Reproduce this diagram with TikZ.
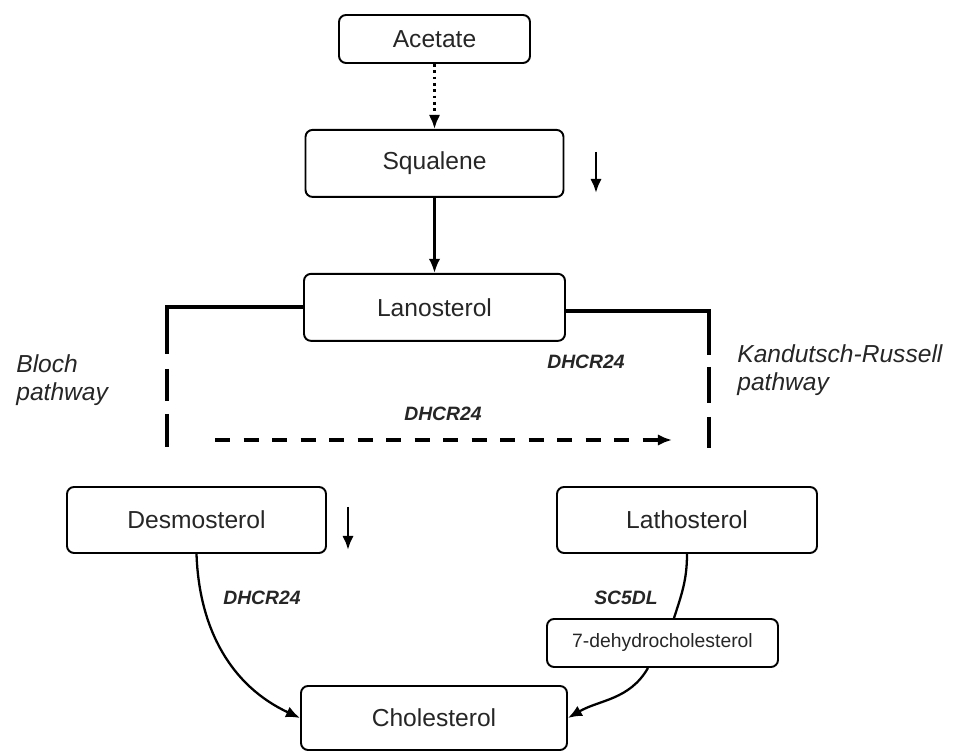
\documentclass[tikz,border=0pt]{standalone}
\usepackage{fontspec}
\setmainfont{Liberation Sans}
\usetikzlibrary{positioning, arrows, arrows.meta}

\begin{document}
\begin{tikzpicture}[-, node distance=1cm, >={Latex[length=8pt, width=6.5pt]},
	mol/.style={draw, rounded corners=4pt, line width=1.1pt, inner sep=0pt, text=black!85, font=\fontsize{14}{17}\selectfont},
	enz/.style={text=black!85, font=\fontsize{11}{13}\selectfont\bfseries\itshape},
	pw/.style={text=black!85, align=left, inner sep=0pt, font=\fontsize{14}{16}\selectfont\itshape},
	flow/.style={line width=1.3pt},
	bracket/.style={line width=1.8pt}]
		\useasboundingbox (0,0) rectangle (19.08,15.02);
		
		\node[mol, minimum width=3.82cm, minimum height=0.96cm] (ace) at (8.69,14.24) {Acetate};
		\node[mol, minimum width=5.16cm, minimum height=1.34cm, below=1.3cm of ace] (squa) {Squalene};
		\node[mol, minimum width=5.22cm, minimum height=1.34cm, below=1.5cm of squa] (lano) {Lanosterol};
		\node[mol, minimum width=5.18cm, minimum height=1.32cm] (desmo) at (3.93,4.62) {Desmosterol};
		\node[mol, minimum width=5.2cm, minimum height=1.32cm] (latho) at (13.74,4.62) {Lathosterol};
		\node[mol, minimum width=4.62cm, minimum height=0.96cm, font=\fontsize{11}{13}\selectfont] (dhc) at (13.25,2.16) {7-dehydrocholesterol};
		\node[mol, minimum width=5.32cm, minimum height=1.28cm] (chol) at (8.68,0.66) {Cholesterol};
		
		\node[pw, anchor=west] (bloch) at (0.32,7.42) {Bloch\\pathway};
		\node[pw, anchor=west] (kr) at (14.74,7.62) {Kandutsch-Russell\\pathway};
		\node[enz] (e1) at (11.72,7.78) {DHCR24};
		\node[enz] (e2) at (8.86,6.74) {DHCR24};
		\node[enz] (e3) at (5.24,3.06) {DHCR24};
		\node[enz] (e4) at (12.52,3.06) {SC5DL};
		
		\coordinate (sq1) at (11.92,11.98);
		\coordinate (sq2) at (11.92,11.16);
		\coordinate (de1) at (6.96,4.88);
		\coordinate (de2) at (6.96,4.02);
		\coordinate (bl1) at (3.34,8.88);
		\coordinate (bl2) at (3.34,6.08);
		\coordinate (kr1) at (14.18,8.8);
		\coordinate (kr2) at (14.18,6.06);
		\coordinate (da1) at (4.3,6.22);
		\coordinate (da2) at (13.44,6.22);
		
		\draw[flow, line width=1.6pt, dash pattern=on 1.6pt off 2pt, ->] (ace) -- (squa);
		\draw[flow, ->] (squa) -- (lano);
		\draw[flow, line width=1.6pt, ->] (sq1) -- (sq2);
		\draw[flow, line width=1.6pt, ->] (de1) -- (de2);
		
		\draw[bracket, dash pattern=on 3.66cm off 0.3cm on 0.64cm off 0.26cm on 2cm] (lano.west |- bl1) -| (bl2);
		\draw[bracket, dash pattern=on 3.74cm off 0.24cm on 0.72cm off 0.28cm on 2cm] (lano.east |- kr1) -| (kr2);
		\draw[flow, line width=2pt, dash pattern=on 0.3cm off 0.27cm, ->] (da1) -- (da2);
		
		\draw[flow, ->] (desmo.south) to[out=-88, in=155] (chol.west);
		\draw[flow] (latho.south) to[out=-90, in=72] ([xshift=0.23cm]dhc.north);
		\draw[flow, ->] ([xshift=-0.29cm]dhc.south) to[out=-120, in=30] (chol.east);
		
	\end{tikzpicture}
\end{document}
